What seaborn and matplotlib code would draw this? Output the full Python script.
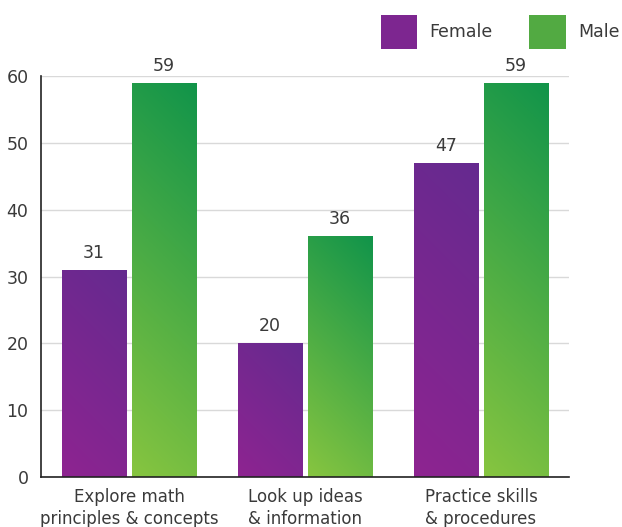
import numpy as np
import pandas as pd
import matplotlib
matplotlib.use("Agg")
import matplotlib.pyplot as plt
import seaborn as sns
from matplotlib.colors import LinearSegmentedColormap
from matplotlib.patches import Patch

categories = ["Explore math\nprinciples & concepts", "Look up ideas\n& information", "Practice skills\n& procedures"]
series = ["Female", "Male"]
female_values = [31, 20, 47]
male_values = [59, 36, 59]
yticks = [0, 10, 20, 30, 40, 50, 60]

grad = {
    "Female": ("#8e2491", "#652a8f"),  # bottom-left, top-right
    "Male": ("#87c540", "#11944a"),
}

df = pd.DataFrame({
    "category": categories * 2,
    "gender": ["Female"] * 3 + ["Male"] * 3,
    "value": female_values + male_values,
})

sns.set_style("white")
plt.rcParams['font.family'] = ['DejaVu Sans']
text_color = "#3a3a3a"

fig = plt.figure(figsize=(6.22, 5.27), dpi=100)
ax = fig.add_axes([41/622, 50/527, (569-41)/622, (477-76)/527])

sns.barplot(data=df, x="category", y="value", hue="gender", hue_order=series,
            order=categories, palette={"Female": "#7b2890", "Male": "#5aaf3f"},
            width=0.8, gap=0.085, legend=False, ax=ax, saturation=1)

ax.set_xlim(-0.5, 2.5)
ax.set_ylim(0, 60)
fig.canvas.draw()

n = 128
for container, name in zip(ax.containers, series):
    cmap = LinearSegmentedColormap.from_list(name, [grad[name][0], grad[name][1]])
    for patch, val in zip(container.patches, container.datavalues):
        x0, y0 = patch.get_x(), patch.get_y()
        w, h = patch.get_width(), patch.get_height()
        p0 = ax.transData.transform((x0, y0))
        p1 = ax.transData.transform((x0 + w, y0 + h))
        wp, hp = abs(p1[0] - p0[0]), abs(p1[1] - p0[1])
        xx, yy = np.meshgrid(np.linspace(0, wp, n), np.linspace(0, hp, n))
        t = (xx + yy) / (wp + hp)
        im = ax.imshow(t, cmap=cmap, vmin=0, vmax=1, origin="lower",
                       extent=[x0, x0 + w, y0, y0 + h], aspect="auto", zorder=2,
                       interpolation="bilinear")
        im.set_clip_path(patch)
        patch.set_facecolor("none")
        patch.set_edgecolor("none")
        ax.text(x0 + w / 2, val + 1.2, f"{val:g}", ha="center", va="bottom",
                fontsize=12.5, color=text_color)

ax.set_xlim(-0.5, 2.5)
ax.set_ylim(0, 60)
ax.set_yticks(yticks)
ax.set_yticklabels([str(v) for v in yticks], fontsize=12.5, color=text_color)
ax.yaxis.grid(True, color="#d9d9d9", linewidth=1)
ax.set_axisbelow(True)
ax.set_xlabel("")
ax.set_ylabel("")

ax.set_xticks(range(len(categories)))
ax.set_xticklabels(categories, fontsize=12, color=text_color, linespacing=1.3)
ax.tick_params(axis="x", length=0, pad=8)
ax.tick_params(axis="y", length=0, pad=9)
ax.set_xticks([0.5, 1.5, 2.5], minor=True)
ax.tick_params(axis="x", which="minor", direction="in", length=9, width=1, color="#222222")

for s in ["top", "right"]:
    ax.spines[s].set_visible(False)
for s in ["left", "bottom"]:
    ax.spines[s].set_color("#222222")
    ax.spines[s].set_linewidth(1.2)

handles = [Patch(facecolor="#7d2690", edgecolor="none"),
           Patch(facecolor="#52aa42", edgecolor="none")]
fig.legend(handles, series, loc="upper right", bbox_to_anchor=(635/622, 1 + 1/527),
           ncol=2, frameon=False, fontsize=12.5, handlelength=2.1, handleheight=2.65,
           handletextpad=0.7, columnspacing=2.1, labelcolor=text_color)

fig.savefig("out.png", dpi=100)
